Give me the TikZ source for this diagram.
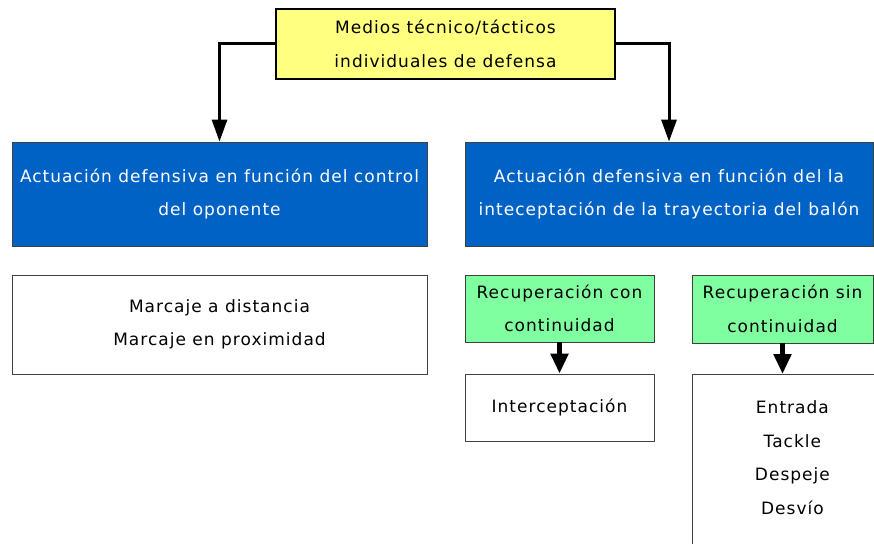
\documentclass[tikz,border=0pt]{standalone}
\usepackage{fontspec}
\setmainfont{DejaVu Sans}[LetterSpace=6]
\usetikzlibrary{arrows.meta}
\definecolor{topyellow}{RGB}{255,255,128}
\definecolor{boxblue}{RGB}{0,98,196}
\definecolor{boxgreen}{RGB}{128,255,160}

\begin{document}
\begin{tikzpicture}
    [
    x=1pt,y=-1pt,
    box/.style={rectangle,draw=black!75,line width=0.8pt,align=center,inner sep=0pt,
      font=\fontsize{17}{33.5}\selectfont},
    title/.style={box,fill=topyellow,draw=black,line width=2pt},
    blue/.style={box,fill=boxblue,text=white},
    green/.style={box,fill=boxgreen},
    edge/.style={-{Triangle[width=15pt,length=22pt]},line width=3pt},
    shortedge/.style={-{Triangle[width=17pt,length=20pt]},line width=5pt}
    ]
\useasboundingbox (0,0) rectangle (874,543);
\clip (0,0) rectangle (874,543);
\node[title,minimum width=339,minimum height=70] (1) at (445.5,44) {Medios técnico/tácticos\\individuales de defensa};
\node[blue,minimum width=415,minimum height=104] (2) at (219.5,194) {Actuación defensiva en función del control\\del oponente};
\node[blue,minimum width=408,minimum height=104] (3) at (669,194) {Actuación defensiva en función del la\\inteceptación de la trayectoria del balón};
\node[box,minimum width=415,minimum height=99] (4) at (219.5,324.5) {Marcaje a distancia\\Marcaje en proximidad};
\node[green,minimum width=189,minimum height=67] (5) at (559.5,308.5) {Recuperación con\\continuidad};
\node[box,minimum width=189,minimum height=67] (6) at (559.5,407.5) {Interceptación};
\node[green,minimum width=181,minimum height=68] (7) at (782.5,309) {Recuperación sin\\continuidad};
\node[box,minimum width=200,minimum height=200,anchor=north west] (8) at (692,374) {Entrada\\Tackle\\Despeje\\Desvío\\\mbox{}};
\draw[edge] (1.west) -| (2.north);
\draw[edge] (1.east) -| (3.north);
\draw[shortedge] (5) -- (6);
\draw[shortedge] (7.south) -- (7.south |- 8.north);
\end{tikzpicture}
\end{document}
